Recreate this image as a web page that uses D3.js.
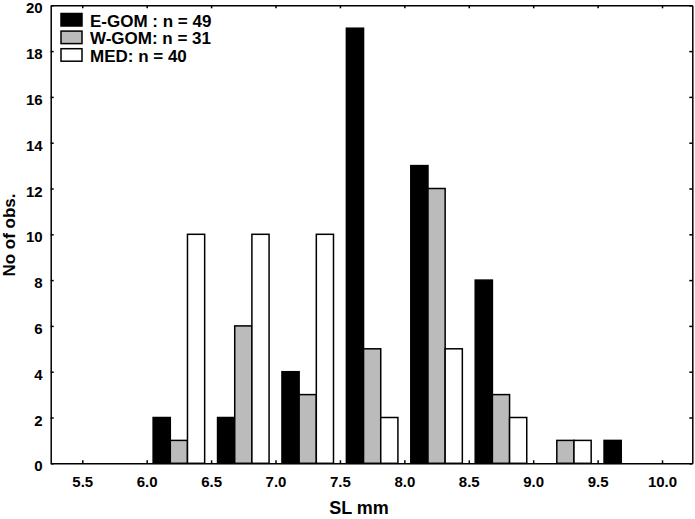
<!DOCTYPE html>
<html><head><meta charset="utf-8">
<script src="https://cdn.jsdelivr.net/npm/d3@7"></script>
<style>body{margin:0;background:#fff}svg{display:block}text{font-family:"Liberation Sans",Arial,sans-serif;font-weight:bold}</style>
</head><body><div id="c"></div>
<script>
const binCenters = [6.25, 6.75, 7.25, 7.75, 8.25, 8.75, 9.25, 9.75];
const eGom = [2, 2, 4, 19, 13, 8, 0, 1];
const wGom = [1, 6, 3, 5, 12, 3, 1, 0];
const med = [10, 10, 10, 2, 5, 2, 1, 0];
const seriesNames = ["E-GOM", "W-GOM", "MED"];
const legendLabels = ["E-GOM : n = 49", "W-GOM: n = 31", "MED: n = 40"];
const seriesFills = ["#000000", "#bbbbbb", "#ffffff"];
const xTicks = [5.5, 6.0, 6.5, 7.0, 7.5, 8.0, 8.5, 9.0, 9.5, 10.0];
const yTicks = [0, 2, 4, 6, 8, 10, 12, 14, 16, 18, 20];

const W = 695, H = 519;
const L = 50.7, R = 692.3, T = 5.3, B = 463.3;
const svg = d3.select("#c").append("svg").attr("width", W).attr("height", H);
const x = d3.scaleLinear().domain([5.255, 10.235]).range([L, R]);
const y = d3.scaleLinear().domain([0, 20]).range([B, T]);
const groupW = 0.4, barW = groupW / 3;
const allSeries = [eGom, wGom, med];

const bars = [];
allSeries.forEach((vals, si) => vals.forEach((v, i) => {
  if (v > 0) bars.push({si, v, c: binCenters[i]});
}));
svg.append("g").selectAll("rect").data(bars).join("rect")
  .attr("x", d => x(d.c - groupW / 2 + d.si * barW))
  .attr("width", d => x(d.c - groupW / 2 + (d.si + 1) * barW) - x(d.c - groupW / 2 + d.si * barW))
  .attr("y", d => y(d.v))
  .attr("height", d => y(0) - y(d.v))
  .attr("fill", d => seriesFills[d.si])
  .attr("stroke", "#000").attr("stroke-width", 1.5);

const tl = 3;
const axB = svg.append("g").attr("transform", `translate(0,${B})`)
  .call(d3.axisBottom(x).tickValues(xTicks).tickFormat(d3.format(".1f")).tickSizeInner(-tl).tickSizeOuter(0).tickPadding(13));
const axT = svg.append("g").attr("transform", `translate(0,${T})`)
  .call(d3.axisTop(x).tickValues(xTicks).tickFormat("").tickSizeInner(-tl).tickSizeOuter(0));
const axL = svg.append("g").attr("transform", `translate(${L},0)`)
  .call(d3.axisLeft(y).tickValues(yTicks).tickFormat(d3.format("d")).tickSizeInner(-tl).tickSizeOuter(0).tickPadding(8));
const axR = svg.append("g").attr("transform", `translate(${R},0)`)
  .call(d3.axisRight(y).tickValues(yTicks).tickFormat("").tickSizeInner(-tl).tickSizeOuter(0));
[axB, axT, axL, axR].forEach(a => {
  a.select(".domain").attr("stroke", "#000").attr("stroke-width", 1.5);
  a.selectAll(".tick line").attr("stroke", "#000").attr("stroke-width", 1.5);
  a.selectAll("text").attr("font-size", 15).attr("fill", "#000")
    .attr("font-family", '"Liberation Sans",Arial,sans-serif').attr("font-weight", "bold");
});
axB.selectAll(".tick text").attr("dy", "0.71em");
axL.selectAll(".tick text").attr("dy", "0.5em");

svg.append("text").attr("x", 359).attr("y", 514).attr("text-anchor", "middle")
  .attr("font-size", 18).text("SL mm");
svg.append("text").attr("transform", "translate(15,235) rotate(-90)").attr("text-anchor", "middle")
  .attr("font-size", 17).text("No of obs.");

const lg = svg.append("g");
legendLabels.forEach((lab, i) => {
  const yy = 13.5 + i * 17.6;
  lg.append("rect").attr("x", 61).attr("y", yy).attr("width", 21).attr("height", 12.5)
    .attr("fill", seriesFills[i]).attr("stroke", "#000").attr("stroke-width", 1.5);
  lg.append("text").attr("x", 90).attr("y", yy + 13).attr("font-size", 17).text(lab);
});
</script></body></html>
